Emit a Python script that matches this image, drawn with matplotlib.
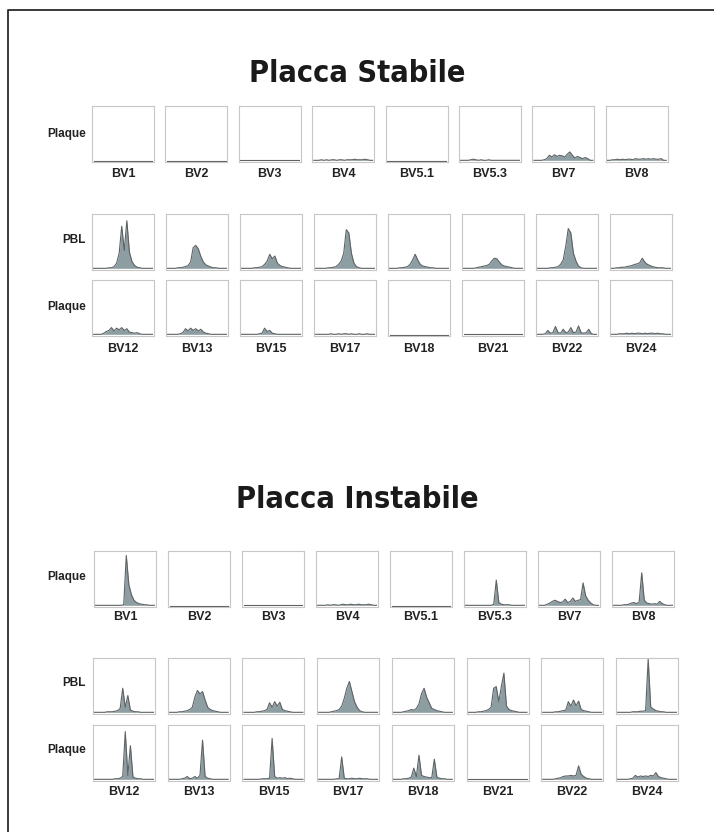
import matplotlib
matplotlib.use("Agg")
import matplotlib.pyplot as plt
from matplotlib.lines import Line2D
import numpy as np

# etichette
stable_top_labels = ["BV1", "BV2", "BV3", "BV4", "BV5.1", "BV5.3", "BV7", "BV8"]
stable_low_labels = ["BV12", "BV13", "BV15", "BV17", "BV18", "BV21", "BV22", "BV24"]
unstable_top_labels = ["BV1", "BV2", "BV3", "BV4", "BV5.1", "BV5.3", "BV7", "BV8"]
unstable_low_labels = ["BV12", "BV13", "BV15", "BV17", "BV18", "BV21", "BV22", "BV24"]

# profili (altezza % del pannello, 24 campioni per pannello)
stable_plaque_top = [
    [2, 2, 2, 2, 2, 2, 2, 2, 2, 2, 2, 2, 2, 2, 2, 2, 2, 2, 2, 2, 2, 2, 2, 2],
    [2, 2, 2, 2, 2, 2, 2, 2, 2, 2, 2, 2, 2, 2, 2, 2, 2, 2, 2, 2, 2, 2, 2, 2],
    [3, 3, 3, 3, 3, 3, 3, 3, 3, 3, 3, 3, 3, 3, 3, 3, 3, 3, 3, 3, 3, 3, 3, 3],
    [3, 3, 3, 4, 3, 4, 3, 4, 4, 3, 4, 4, 3, 4, 4, 4, 5, 4, 4, 4, 5, 4, 3, 3],
    [2, 2, 2, 2, 2, 2, 2, 2, 2, 2, 2, 2, 2, 2, 2, 2, 2, 2, 2, 2, 2, 2, 2, 2],
    [3, 3, 3, 3, 4, 5, 4, 3, 4, 3, 3, 4, 3, 3, 3, 3, 3, 3, 3, 3, 3, 3, 3, 3],
    [3, 3, 3, 3, 4, 6, 12, 9, 13, 10, 12, 11, 9, 14, 18, 12, 7, 10, 8, 6, 8, 6, 3, 3],
    [3, 3, 4, 4, 5, 4, 5, 4, 5, 5, 4, 6, 5, 5, 6, 5, 6, 5, 6, 5, 5, 6, 3, 3],
]
stable_pbl = [
    [3, 3, 3, 3, 3, 3, 4, 4, 6, 12, 30, 78, 35, 88, 32, 15, 8, 5, 4, 3, 3, 3, 3, 3],
    [3, 3, 3, 3, 4, 4, 5, 6, 8, 14, 40, 44, 38, 24, 14, 9, 7, 5, 4, 4, 3, 3, 3, 3],
    [3, 3, 3, 3, 3, 4, 4, 5, 6, 10, 16, 28, 20, 25, 12, 8, 6, 5, 4, 3, 3, 3, 3, 3],
    [3, 3, 3, 3, 3, 4, 4, 5, 6, 10, 16, 30, 72, 66, 30, 12, 6, 4, 3, 3, 3, 3, 3, 3],
    [3, 3, 3, 3, 4, 4, 5, 6, 10, 18, 28, 18, 10, 7, 6, 5, 4, 4, 3, 3, 3, 3, 3, 3],
    [3, 3, 3, 3, 3, 4, 5, 6, 7, 8, 10, 16, 21, 20, 14, 9, 7, 6, 5, 4, 3, 3, 3, 3],
    [3, 3, 3, 3, 3, 4, 4, 5, 6, 10, 18, 42, 74, 66, 30, 16, 7, 4, 3, 3, 3, 3, 3, 3],
    [3, 3, 4, 4, 5, 5, 6, 7, 8, 10, 11, 13, 21, 14, 10, 8, 6, 5, 4, 4, 4, 3, 3, 3],
]
stable_plaque_low = [
    [3, 3, 3, 3, 5, 8, 10, 15, 9, 14, 11, 15, 10, 13, 7, 6, 5, 6, 4, 3, 3, 3, 3, 3],
    [3, 3, 3, 3, 3, 4, 6, 13, 9, 14, 10, 13, 9, 12, 7, 5, 4, 3, 3, 3, 3, 3, 3, 3],
    [3, 3, 3, 3, 3, 3, 3, 4, 5, 14, 8, 10, 5, 4, 3, 3, 3, 3, 3, 3, 3, 3, 3, 3],
    [3, 3, 3, 3, 3, 3, 4, 3, 3, 4, 3, 4, 4, 3, 4, 3, 3, 4, 3, 3, 4, 3, 3, 3],
    [2, 2, 2, 2, 2, 2, 2, 2, 2, 2, 2, 2, 2, 2, 2, 2, 2, 2, 2, 2, 2, 2, 2, 2],
    [3, 3, 3, 3, 3, 3, 3, 3, 3, 3, 3, 3, 3, 3, 3, 3, 3, 3, 3, 3, 3, 3, 3, 3],
    [3, 3, 3, 4, 10, 5, 6, 17, 6, 5, 12, 6, 7, 15, 6, 7, 18, 6, 5, 6, 12, 4, 3, 3],
    [3, 3, 3, 4, 4, 4, 5, 4, 5, 4, 5, 5, 4, 5, 4, 5, 5, 4, 5, 4, 4, 3, 3, 3],
]
unstable_plaque_top = [
    [3, 3, 3, 3, 3, 3, 3, 3, 3, 3, 3, 4, 92, 40, 22, 12, 8, 6, 5, 4, 4, 3, 3, 3],
    [2, 2, 2, 2, 2, 2, 2, 2, 2, 2, 2, 2, 2, 2, 2, 2, 2, 2, 2, 2, 2, 2, 2, 2],
    [3, 3, 3, 3, 3, 3, 3, 3, 3, 3, 3, 3, 3, 3, 3, 3, 3, 3, 3, 3, 3, 3, 3, 3],
    [3, 3, 3, 3, 4, 3, 4, 4, 3, 4, 5, 4, 4, 5, 4, 4, 5, 4, 4, 4, 5, 4, 3, 3],
    [2, 2, 2, 2, 2, 2, 2, 2, 2, 2, 2, 2, 2, 2, 2, 2, 2, 2, 2, 2, 2, 2, 2, 2],
    [3, 3, 3, 3, 3, 3, 3, 3, 3, 3, 3, 5, 48, 8, 5, 4, 4, 4, 3, 3, 3, 3, 3, 3],
    [3, 3, 3, 5, 7, 10, 12, 10, 8, 9, 14, 8, 10, 16, 10, 12, 13, 43, 20, 12, 7, 4, 3, 3],
    [3, 3, 3, 3, 4, 4, 5, 7, 8, 6, 9, 61, 12, 7, 6, 5, 6, 5, 10, 6, 4, 3, 3, 3],
]
unstable_pbl = [
    [3, 3, 3, 3, 3, 4, 4, 4, 5, 6, 10, 46, 12, 33, 7, 5, 4, 4, 3, 3, 3, 3, 3, 3],
    [3, 3, 3, 3, 4, 4, 5, 6, 8, 12, 30, 42, 36, 40, 25, 12, 8, 6, 5, 4, 3, 3, 3, 3],
    [3, 3, 3, 3, 3, 4, 4, 5, 6, 8, 20, 12, 22, 14, 21, 8, 6, 5, 4, 3, 3, 3, 3, 3],
    [3, 3, 3, 3, 3, 4, 5, 6, 8, 14, 28, 46, 58, 40, 22, 12, 6, 4, 3, 3, 3, 3, 3, 3],
    [3, 3, 3, 3, 4, 5, 6, 8, 7, 10, 18, 36, 46, 30, 20, 10, 8, 6, 5, 4, 3, 3, 3, 3],
    [3, 3, 3, 3, 4, 4, 5, 6, 8, 12, 46, 49, 22, 49, 73, 14, 8, 6, 5, 4, 3, 3, 3, 3],
    [3, 3, 3, 3, 3, 4, 4, 5, 6, 7, 22, 14, 25, 15, 23, 8, 6, 5, 4, 3, 3, 3, 3, 3],
    [3, 3, 3, 3, 3, 3, 4, 4, 4, 5, 5, 6, 98, 12, 9, 6, 5, 4, 4, 3, 3, 3, 3, 3],
]
unstable_plaque_low = [
    [3, 3, 3, 3, 3, 3, 3, 3, 4, 4, 5, 8, 88, 10, 63, 7, 5, 4, 4, 3, 3, 3, 3, 3],
    [3, 3, 3, 3, 3, 4, 5, 8, 4, 5, 8, 5, 10, 73, 8, 5, 4, 3, 3, 3, 3, 3, 3, 3],
    [3, 3, 3, 3, 3, 3, 3, 4, 4, 4, 5, 76, 8, 5, 6, 5, 6, 4, 5, 4, 3, 3, 3, 3],
    [3, 3, 3, 3, 3, 3, 3, 4, 4, 43, 5, 4, 4, 5, 4, 4, 5, 4, 4, 4, 3, 3, 3, 3],
    [3, 3, 3, 3, 4, 4, 5, 7, 23, 8, 46, 10, 8, 7, 6, 6, 39, 7, 5, 4, 4, 3, 3, 3],
    [3, 3, 3, 3, 3, 3, 3, 3, 3, 3, 3, 3, 3, 3, 3, 3, 3, 3, 3, 3, 3, 3, 3, 3],
    [3, 3, 3, 3, 3, 4, 5, 6, 8, 9, 9, 10, 9, 10, 27, 12, 8, 5, 4, 3, 3, 3, 3, 3],
    [3, 3, 3, 3, 3, 4, 5, 10, 7, 9, 8, 9, 8, 10, 9, 15, 8, 6, 5, 4, 3, 3, 3, 3],
]

W, H = 714, 832
fig = plt.figure(figsize=(W / 100, H / 100), dpi=100)

TITLE_FONT = ["Liberation Sans Narrow", "DejaVu Sans"]
LABEL_FONT = ["Liberation Sans", "DejaVu Sans"]


def add_panel(x, y, w, h):
    return fig.add_axes([x / W, 1 - (y + h) / H, w / W, h / H])


def draw_row(data, x0, pitch, y, w=62, h=56):
    for i, vals in enumerate(data):
        ax = add_panel(x0 + i * pitch, y, w, h)
        v = np.array(vals, dtype=float)
        xs = np.arange(len(v))
        ax.fill_between(xs, v.min(), v, color="#8d9ea3", lw=0)
        ax.plot(xs, v, color="#5e6264", lw=0.8)
        ax.set_xlim(-0.6, len(v) - 0.4)
        ax.set_ylim(0, 100)
        ax.set_xticks([])
        ax.set_yticks([])
        for s in ax.spines.values():
            s.set_color("#cbc6c6")
            s.set_linewidth(0.8)


def bv_labels(labels, x0, pitch, y, w=62):
    for i, lab in enumerate(labels):
        fig.text((x0 + i * pitch + w / 2) / W, 1 - y / H, lab, ha="center", va="center",
                 family=LABEL_FONT, weight="bold", fontsize=9, color="#222222")


def row_label(text, y):
    fig.text(86 / W, 1 - y / H, text, ha="right", va="center",
             family=LABEL_FONT, weight="bold", fontsize=8.5, color="#222222")


def title(text, y):
    fig.text(357 / W, 1 - y / H, text, ha="center", va="center",
             family=TITLE_FONT, stretch="condensed", weight="bold", fontsize=22, color="#1a1a1a")


# Placca Stabile
title("Placca Stabile", 73)
draw_row(stable_plaque_top, 92, 73.4, 106)
row_label("Plaque", 134)
bv_labels(stable_top_labels, 92, 73.4, 174)

draw_row(stable_pbl, 92, 74, 214)
draw_row(stable_plaque_low, 92, 74, 280)
row_label("PBL", 240)
row_label("Plaque", 307)
bv_labels(stable_low_labels, 92, 74, 349)

# Placca Instabile
title("Placca Instabile", 500)
draw_row(unstable_plaque_top, 94, 74, 551)
row_label("Plaque", 577)
bv_labels(unstable_top_labels, 94, 74, 617)

draw_row(unstable_pbl, 93, 74.7, 658)
draw_row(unstable_plaque_low, 93, 74.7, 725)
row_label("PBL", 683)
row_label("Plaque", 750)
bv_labels(unstable_low_labels, 93, 74.7, 792)

# cornice esterna
fig.add_artist(Line2D([8 / W, 8 / W, 1.0], [0.0, 1 - 10 / H, 1 - 10 / H],
                      transform=fig.transFigure, color="#2a2a2a", lw=1.3))

fig.savefig("out.png", dpi=100)
